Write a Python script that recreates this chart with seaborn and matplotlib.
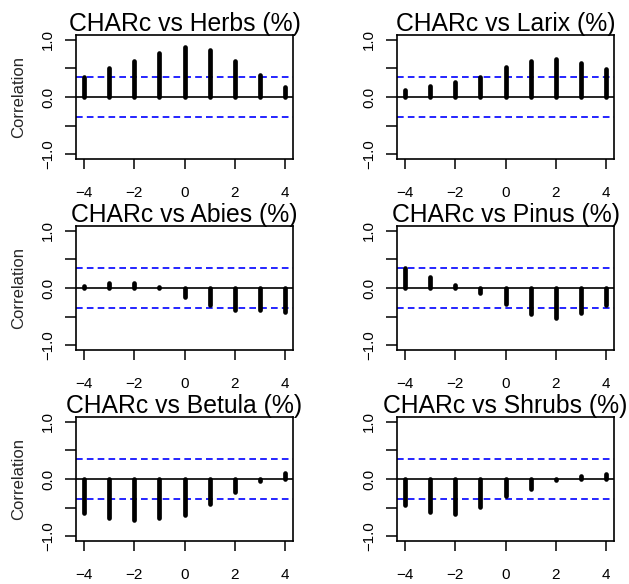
import numpy as np
import pandas as pd
import matplotlib
matplotlib.use("Agg")
import matplotlib.pyplot as plt
import seaborn as sns

# Cross-correlation of charcoal accumulation (CHARc) with pollen taxa, lags -4..4
lags = [-4, -3, -2, -1, 0, 1, 2, 3, 4]
taxa = ["Herbs", "Larix", "Abies", "Pinus", "Betula", "Shrubs"]
herbs = [0.34, 0.50, 0.63, 0.77, 0.87, 0.82, 0.63, 0.38, 0.17]
larix = [0.13, 0.20, 0.26, 0.34, 0.52, 0.63, 0.66, 0.59, 0.49]
abies = [0.03, 0.09, 0.09, 0.01, -0.15, -0.29, -0.38, -0.39, -0.41]
pinus = [0.34, 0.19, 0.06, -0.08, -0.27, -0.46, -0.52, -0.44, -0.29]
betula = [-0.60, -0.68, -0.71, -0.68, -0.63, -0.44, -0.23, -0.04, 0.10]
shrubs = [-0.46, -0.58, -0.61, -0.49, -0.29, -0.17, -0.02, 0.06, 0.09]
conf_limit = 0.34
y_ticks = [-1.0, -0.5, 0.0, 0.5, 1.0]
y_ticklabels = ["\u22121.0", "", "0.0", "", "1.0"]
x_ticks = [-4, -2, 0, 2, 4]
x_ticklabels = ["\u22124", "\u22122", "0", "2", "4"]

series = [herbs, larix, abies, pinus, betula, shrubs]
df = pd.concat(
    [pd.DataFrame({"taxon": t, "lag": lags, "r": v}) for t, v in zip(taxa, series)],
    ignore_index=True,
)

sns.set_style("ticks")
plt.rcParams["font.family"] = ["Liberation Sans", "DejaVu Sans"]

W, H = 629, 584
g = sns.FacetGrid(df, col="taxon", col_wrap=2, sharex=False, sharey=False,
                  despine=False, height=H / 100 / 3, aspect=(W / 2) / (H / 3))
g.figure.set_size_inches(W / 100, H / 100)


def draw_ccf(data, **kws):
    ax = plt.gca()
    ax.vlines(data["lag"], 0, data["r"], colors="black", linewidth=3.4,
              capstyle="round", zorder=3)
    ax.axhline(0, color="black", linewidth=1.2, zorder=2)
    for lim in (conf_limit, -conf_limit):
        ax.axhline(lim, color="#0000FF", linewidth=1.2, dashes=(4, 2.5), zorder=2)


g.map_dataframe(draw_ccf)
g.set_titles("")

lefts = [76, 397]
tops = [35, 226, 417]
pw, ph = 217, 124
for i, (ax, t) in enumerate(zip(g.axes.flat, taxa)):
    row, col = divmod(i, 2)
    ax.set_position([lefts[col] / W, 1 - (tops[row] + ph) / H, pw / W, ph / H])
    ax.set_xlim(-4.32, 4.32)
    ax.set_ylim(-1.08, 1.08)
    ax.set_xticks(x_ticks)
    ax.set_xticklabels(x_ticklabels)
    ax.set_yticks(y_ticks)
    ax.set_yticklabels(y_ticklabels, rotation=90, va="center")
    ax.tick_params(axis="x", direction="out", length=7.3, width=1.1,
                   labelsize=11, pad=11.8, color="black", labelcolor="black")
    ax.tick_params(axis="y", direction="out", length=7.8, width=1.1,
                   labelsize=10.8, pad=7.3, color="black", labelcolor="black")
    for s in ax.spines.values():
        s.set_linewidth(1.2)
        s.set_color("black")
    ax.set_xlabel("")
    if col == 0:
        ax.set_ylabel("Correlation", fontsize=12)
        ax.yaxis.label.set_va("center")
        ax.yaxis.set_label_coords((18.3 - lefts[0]) / pw, 0.5)
    else:
        ax.set_ylabel("")
    ax.text(0.5, 1.035, f"CHARc vs {t} (%)", transform=ax.transAxes,
            ha="center", va="baseline", fontsize=17.8, color="black")

g.figure.savefig("out.png", dpi=100)
